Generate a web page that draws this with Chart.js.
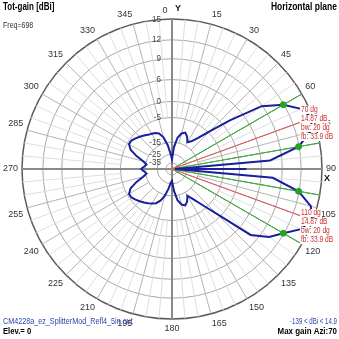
<!DOCTYPE html>
<html lang="en">
<head>
<meta charset="UTF-8">
<title>Tot-gain [dBi] - Horizontal plane</title>
<script src="https://cdn.jsdelivr.net/npm/chart.js"></script>
<style>
  html, body { margin: 0; padding: 0; background: #fff; }
  .chart-container { position: relative; width: 339px; height: 339px; }
</style>
</head>
<body>
<div class="chart-container"><canvas id="polarChart"></canvas></div>
<script>
// azimuth (deg) and total gain (dBi)
const azimuths = [
    0,   5,  10,  15,  20,  25,  30,  35,  40,  45,  50,  55,  60,  65,  70,  75,  80,  85,  89,  90,  91,  95,
  100, 105, 110, 115, 120, 125, 130, 135, 140, 145, 150, 155, 160, 165, 170, 175, 180, 185, 190, 195,
  200, 205, 210, 215, 220, 225, 230, 235, 240, 245, 250, 255, 260, 265, 268, 270, 272, 275, 280, 285,
  290, 295, 300, 305, 310, 315, 320, 325, 330, 335, 340, 345, 350, 355
];
const gainDbi = [
  -30.6, -19.2, -13.0, -11.0, -10.2, -11.4, -13.4, -12.2, -9.4, -4.5, 2.2, 8.9, 11.9, 13.9, 14.87, 14.0, 11.9, 7.3, -40, 1.9, -40, 7.7,
  11.9, 14.1, 14.85, 13.9, 11.9, 10.3, 7.9, -1.3, -7.0, -11.0, -13.4, -11.4, -10.2, -11.0, -13.0, -19.2, -28.3, -26.1, -20.8, -14.6,
  -12.2, -10.6, -9.8, -9.0, -8.2, -7.4, -6.6, -5.8, -5.8, -7.4, -10.6, -13.8, -15.8, -14.6, -13.8, -13.4, -13.8, -14.6, -15.8, -13.8,
  -10.6, -7.4, -5.8, -5.8, -6.6, -7.4, -8.2, -9.0, -9.4, -9.8, -10.6, -12.6, -17.5, -25
];

const ringDb = [15, 12, 9, 6, 0, -5, -15, -25, -35];
const compassLabels = ['0', '15', '30', '45', '60', '75', '90', '105', '120', '135', '150', '165',
                       '180', '195', '210', '225', '240', '255', '270', '285', '300', '315', '330', '345'];
const beamAzimuths = [70, 110];
const halfPowerAzimuths = [60, 80, 100, 120];
const beamNotes = [
  ['70 dg', '14.87 dB', 'bw: 20 dg', 'fb: 33.9 dB'],
  ['110 dg', '14.87 dB', 'bw: 20 dg', 'fb: 33.9 dB']
];

// log-like radial scale: where each ring sits, as a fraction of the outer radius
const ringPos = [1, 0.861, 0.735, 0.596, 0.450, 0.344, 0.179, 0.099, 0.040];
function toR(db) {
  const dbs = ringDb.concat([-45]);
  const pos = ringPos.concat([0]);
  if (db >= dbs[0]) return 1;
  for (let i = 0; i < dbs.length - 1; i++) {
    if (db >= dbs[i + 1]) {
      const t = (db - dbs[i + 1]) / (dbs[i] - dbs[i + 1]);
      return pos[i + 1] + t * (pos[i] - pos[i + 1]);
    }
  }
  return 0;
}

const degLabels = Array.from({ length: 360 }, (_, i) => String(i));
function emptySeries() { return new Array(360).fill(null); }

const patternData = emptySeries();
azimuths.forEach((a, i) => { patternData[a] = toR(gainDbi[i]); });

function radialLine(az) {
  const d = emptySeries();
  d[az] = 1;
  d[(az + 1) % 360] = 0;
  return d;
}

const dotData = emptySeries();
halfPowerAzimuths.forEach(a => { dotData[a] = patternData[a]; });

const datasets = [
  { label: 'dots', data: dotData, showLine: false, pointRadius: 3, pointBackgroundColor: '#22a322',
    pointBorderColor: '#22a322', order: 0 },
  { label: 'pattern', data: patternData, borderColor: '#1a1f9c', borderWidth: 2, pointRadius: 0,
    fill: false, spanGaps: true, order: 1 }
];
beamAzimuths.forEach(a => datasets.push({ data: radialLine(a), borderColor: '#d46a6a', borderWidth: 1,
  pointRadius: 0, fill: false, spanGaps: true, order: 2 }));
halfPowerAzimuths.forEach(a => datasets.push({ data: radialLine(a), borderColor: '#4aa84a', borderWidth: 1,
  pointRadius: 0, fill: false, spanGaps: true, order: 2 }));

const spokes = {
  id: 'spokes',
  beforeDatasetsDraw(chart) {
    const r = chart.scales.r, ctx = chart.ctx;
    ctx.save();
    for (let a = 0; a < 360; a += 5) {
      const axis = a % 90 === 0, major = a % 15 === 0;
      const start = axis ? 0 : r.getDistanceFromCenterForValue(toR(major ? -15 : -5));
      const p0 = r.getPointPosition(a, start), p1 = r.getPointPosition(a, r.drawingArea);
      ctx.strokeStyle = axis ? '#8a8a8a' : (major ? '#b4b4b4' : '#dedede');
      ctx.lineWidth = axis ? 2 : 1;
      ctx.beginPath();
      ctx.moveTo(p0.x, p0.y);
      ctx.lineTo(p1.x, p1.y);
      ctx.stroke();
    }
    ctx.restore();
  }
};

// small narrow windows-style font: squeeze text to the width it has in the original
function label(ctx, t, x, y, squeeze) {
  const w = ctx.measureText(t).width;
  ctx.fillText(t, x, y, w * squeeze);
}

const texts = {
  id: 'texts',
  afterDatasetsDraw(chart) {
    const r = chart.scales.r, ctx = chart.ctx;
    const cx = r.xCenter, cy = r.yCenter, R = r.drawingArea;
    const fam = '"Liberation Sans", Arial, sans-serif';
    ctx.save();
    ctx.textBaseline = 'middle';

    // ring labels, left of the vertical axis
    ctx.font = '9px ' + fam;
    ctx.fillStyle = '#444';
    ctx.textAlign = 'right';
    ringDb.forEach(d => {
      label(ctx, String(d), cx - 11, cy - r.getDistanceFromCenterForValue(toR(d)), 0.9);
    });

    // 0 / Y and X markers
    ctx.textAlign = 'center';
    ctx.fillStyle = '#333';
    ctx.fillText('0', cx - 7, cy - R - 9);
    ctx.font = 'bold 9px ' + fam;
    ctx.fillStyle = '#111';
    ctx.fillText('Y', cx + 6, cy - R - 11);
    ctx.fillText('X', cx + R + 5, cy + 10);

    // beam notes
    ctx.font = '8.5px ' + fam;
    ctx.textAlign = 'left';
    const starts = [cy - 59, cy + 44];
    beamNotes.forEach((lines, k) => {
      lines.forEach((t, i) => {
        const y = starts[k] + i * 9;
        const w = ctx.measureText(t).width * 0.78;
        ctx.fillStyle = '#fff';
        ctx.fillRect(cx + 128, y - 4, w + 2, 8);
        ctx.fillStyle = '#cc3030';
        label(ctx, t, cx + 129, y, 0.78);
      });
    });

    // header / footer
    const W = chart.width;
    ctx.fillStyle = '#000';
    ctx.font = 'bold 10px ' + fam;
    label(ctx, 'Tot-gain [dBi]', 3, 7, 0.8);
    ctx.textAlign = 'right';
    label(ctx, 'Horizontal plane', W - 2, 7, 0.85);
    ctx.font = 'bold 9px ' + fam;
    label(ctx, 'Max gain Azi:70', W - 2, 332, 0.88);
    ctx.textAlign = 'left';
    label(ctx, 'Elev.= 0', 3, 332, 0.85);
    ctx.font = '9px ' + fam;
    ctx.fillStyle = '#333';
    label(ctx, 'Freq=698', 3, 26, 0.78);
    ctx.fillStyle = '#2b45b0';
    label(ctx, 'CM4228a_ez_SplitterMod_Refl4_5in.out', 3, 322, 0.8);
    ctx.textAlign = 'right';
    label(ctx, '-139 < dBi < 14.9', W - 2, 322, 0.68);
    ctx.restore();
  }
};

new Chart(document.getElementById('polarChart'), {
  type: 'radar',
  data: { labels: degLabels, datasets: datasets },
  options: {
    responsive: true,
    maintainAspectRatio: false,
    animation: false,
    elements: { line: { tension: 0 } },
    plugins: { legend: { display: false }, tooltip: { enabled: false } },
    scales: {
      r: {
        min: 0,
        max: 1,
        afterBuildTicks: (scale) => {
          scale.ticks = [{ value: 0 }].concat(ringDb.slice().reverse().map(d => ({ value: toR(d) })));
        },
        ticks: { display: false },
        angleLines: { display: false },
        grid: {
          circular: true,
          color: (c) => c.index === ringDb.length ? '#5a5a5a' : '#a8a8a8',
          lineWidth: (c) => c.index === ringDb.length ? 1.5 : 1
        },
        pointLabels: {
          padding: 4,
          color: '#333',
          font: { size: 9, family: '"Liberation Sans", Arial, sans-serif' },
          callback: (label) => (label !== '0' && compassLabels.includes(label)) ? label : ''
        }
      }
    }
  },
  plugins: [spokes, texts]
});
</script>
</body>
</html>
